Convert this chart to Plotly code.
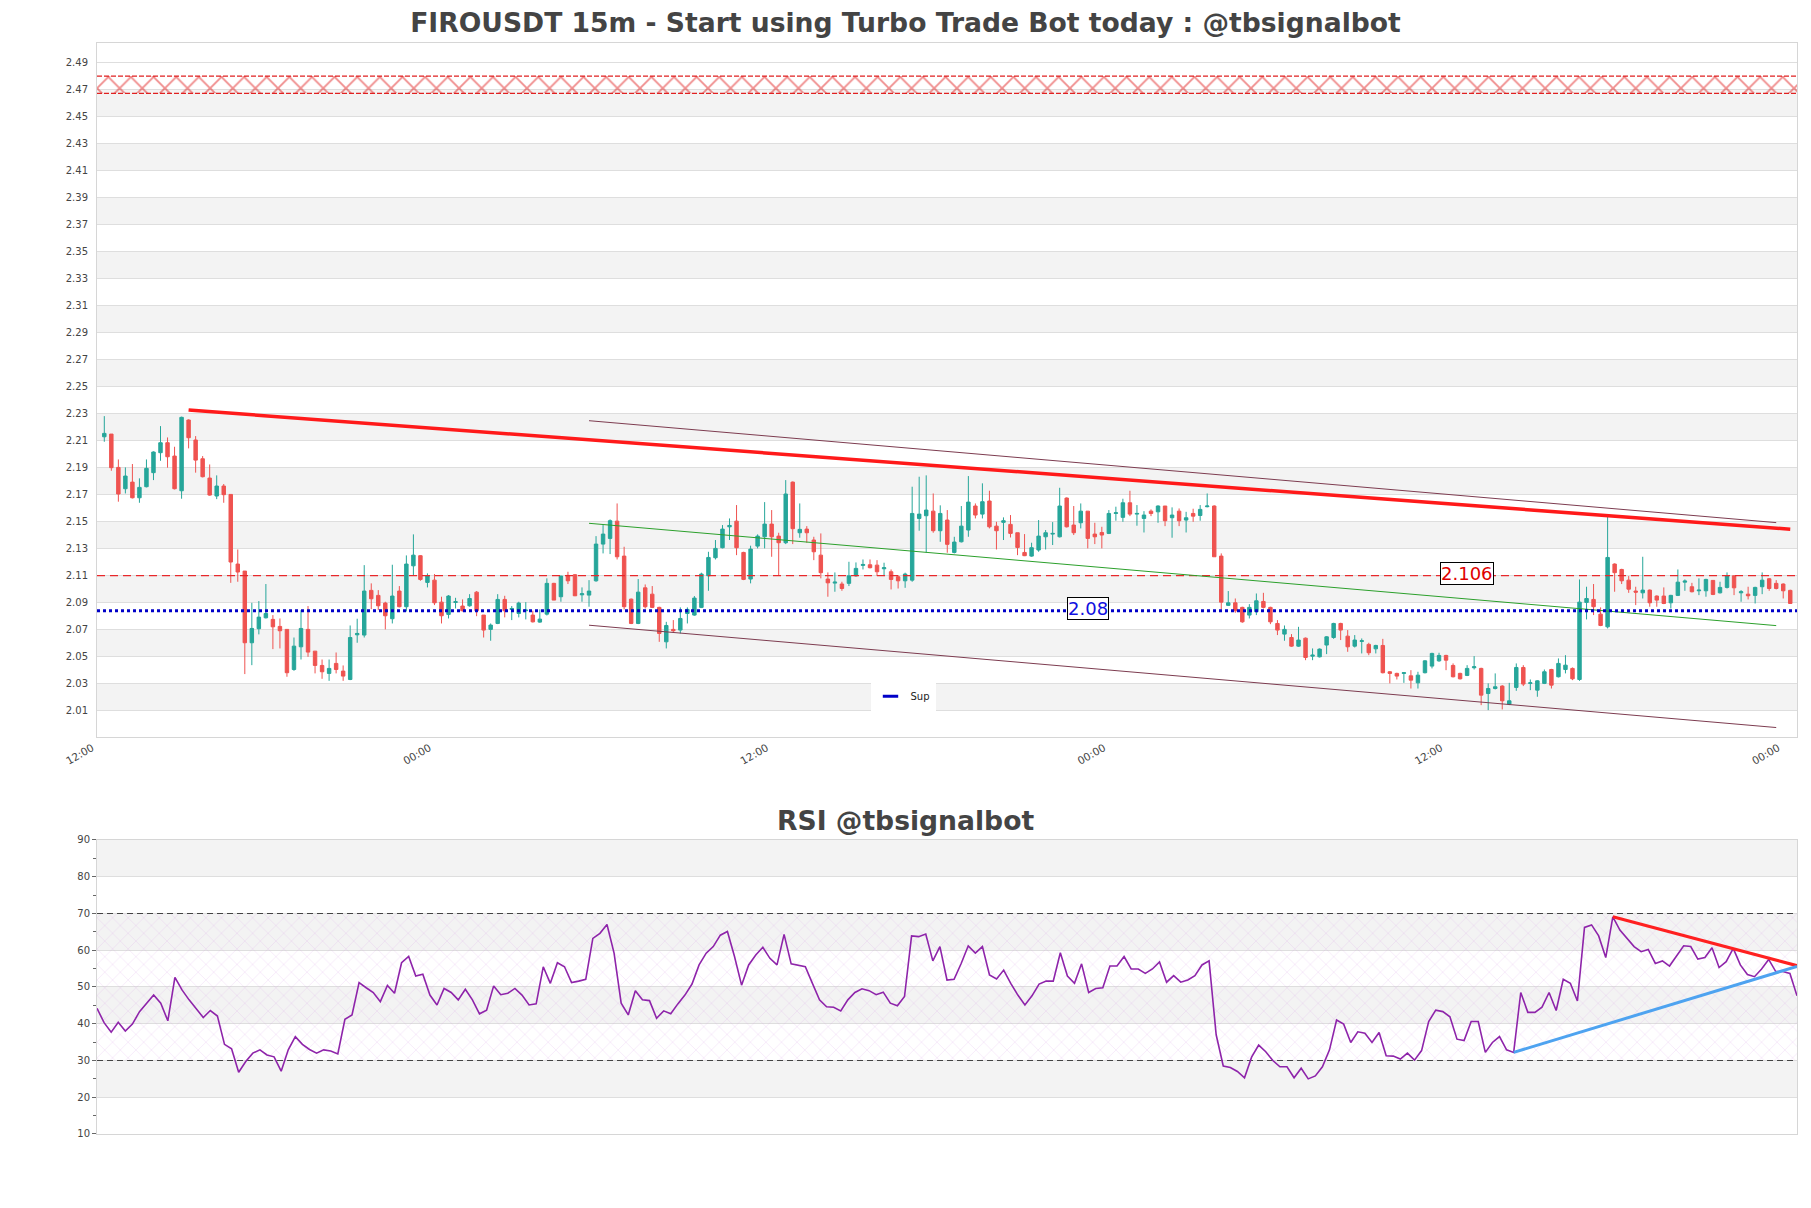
import plotly.graph_objects as go
import pandas as pd

# ---------------- data ----------------
first_time = "2024-03-11 12:15"
n_candles = 241

open_ = [2.2089,2.2109,2.1862,2.1704,2.1753,2.1637,2.1719,2.1823,2.1971,2.2045,2.1946,2.1689,2.2213,2.2065,2.1926,2.1783,2.1650,2.1724,2.1662,2.1146,
2.1094,2.0563,2.0667,2.0748,2.0736,2.0684,2.0662,2.0365,2.0533,2.0662,2.0501,2.0395,2.0336,2.0410,2.0353,2.0291,2.0622,2.0620,2.0951,2.0914,
2.0857,2.0741,2.0946,2.0830,2.1133,2.1208,2.1010,2.1027,2.0864,2.0773,2.0862,2.0835,2.0837,2.0938,2.0768,2.0662,2.0706,2.0884,2.0810,2.0780,
2.0800,2.0768,2.0716,2.0775,2.1003,2.0904,2.1062,2.1067,2.0918,2.0916,2.1022,2.1294,2.1336,2.1464,2.1205,2.0886,2.0706,2.0970,2.0923,2.0825,
2.0570,2.0662,2.0657,2.0780,2.0768,2.0825,2.1059,2.1193,2.1267,2.1422,2.1464,2.1232,2.1035,2.1279,2.1348,2.1442,2.1353,2.1304,2.1753,2.1378,
2.1405,2.1324,2.1212,2.1035,2.1005,2.0998,2.1003,2.1059,2.1136,2.1141,2.1138,2.1111,2.1089,2.1052,2.1022,2.1027,2.1484,2.1504,2.1538,2.1393,
2.1472,2.1232,2.1311,2.1398,2.1576,2.1516,2.1613,2.1427,2.1455,2.1440,2.1378,2.1232,2.1205,2.1250,2.1348,2.1368,2.1348,2.1635,2.1435,2.1452,
2.1538,2.1368,2.1380,2.1373,2.1521,2.1492,2.1600,2.1516,2.1484,2.1538,2.1533,2.1576,2.1489,2.1538,2.1472,2.1521,2.1506,2.1571,2.1576,2.1205,
2.0840,2.0859,2.0825,2.0768,2.0793,2.0869,2.0825,2.0706,2.0627,2.0602,2.0538,2.0597,2.0464,2.0459,2.0546,2.0602,2.0706,2.0612,2.0538,2.0573,
2.0551,2.0518,2.0543,2.0348,2.0336,2.0336,2.0318,2.0266,2.0341,2.0390,2.0429,2.0469,2.0395,2.0336,2.0321,2.0378,2.0373,2.0187,2.0224,2.0242,
2.0108,2.0232,2.0380,2.0262,2.0212,2.0262,2.0365,2.0311,2.0365,2.0373,2.0291,2.0862,2.0884,2.0775,2.0681,2.1146,2.1106,2.1027,2.0946,2.0933,
2.0953,2.0909,2.0909,2.0859,2.0914,2.1012,2.0978,2.0948,2.0948,2.1025,2.0933,2.0973,2.1059,2.0933,2.0923,2.0914,2.0978,2.1037,2.1003,2.0998,
2.0951]

high_ = [2.2242,2.2109,2.1921,2.1862,2.1887,2.1781,2.1921,2.1981,2.2168,2.2084,2.2015,2.2238,2.2218,2.2094,2.1946,2.1884,2.1803,2.1739,2.1662,2.1254,
2.1094,2.0859,2.0872,2.0998,2.0768,2.0743,2.0662,2.0602,2.0805,2.0835,2.0501,2.0439,2.0439,2.0491,2.0395,2.0691,2.0741,2.1138,2.1003,2.0953,
2.0867,2.1141,2.0983,2.1210,2.1366,2.1212,2.1077,2.1072,2.0904,2.0916,2.0896,2.0884,2.0923,2.0946,2.0768,2.0706,2.0923,2.0911,2.0835,2.0867,
2.0864,2.0800,2.0810,2.1040,2.1007,2.1059,2.1089,2.1072,2.0973,2.1027,2.1353,2.1435,2.1477,2.1595,2.1274,2.0891,2.1035,2.0995,2.0983,2.0830,
2.0718,2.0731,2.0825,2.0825,2.0909,2.1082,2.1237,2.1324,2.1435,2.1484,2.1583,2.1237,2.1282,2.1366,2.1605,2.1546,2.1378,2.1768,2.1758,2.1595,
2.1427,2.1348,2.1373,2.1084,2.1084,2.1015,2.1163,2.1158,2.1180,2.1180,2.1175,2.1156,2.1106,2.1064,2.1082,2.1719,2.1793,2.1803,2.1669,2.1581,
2.1546,2.1348,2.1576,2.1798,2.1595,2.1744,2.1689,2.1459,2.1492,2.1509,2.1378,2.1368,2.1304,2.1472,2.1398,2.1457,2.1711,2.1640,2.1576,2.1595,
2.1538,2.1452,2.1422,2.1546,2.1571,2.1630,2.1689,2.1583,2.1538,2.1551,2.1581,2.1576,2.1566,2.1558,2.1533,2.1556,2.1583,2.1669,2.1581,2.1225,
2.0946,2.0891,2.0830,2.0849,2.0928,2.0933,2.0830,2.0731,2.0691,2.0627,2.0681,2.0602,2.0521,2.0521,2.0612,2.0711,2.0711,2.0657,2.0620,2.0595,
2.0563,2.0548,2.0592,2.0353,2.0341,2.0346,2.0360,2.0348,2.0434,2.0489,2.0489,2.0474,2.0410,2.0341,2.0397,2.0464,2.0378,2.0262,2.0336,2.0249,
2.0266,2.0410,2.0397,2.0291,2.0286,2.0365,2.0370,2.0447,2.0471,2.0380,2.1032,2.0978,2.0998,2.0825,2.1501,2.1151,2.1111,2.1057,2.0978,2.1200,
2.0958,2.0914,2.0973,2.0918,2.1106,2.1032,2.1007,2.1040,2.1037,2.1027,2.1015,2.1084,2.1064,2.0953,2.0978,2.0978,2.1084,2.1042,2.1027,2.1003,
2.0956]

low_ = [2.2052,2.1837,2.1608,2.1669,2.1632,2.1600,2.1714,2.1768,2.1911,2.1860,2.1699,2.1630,2.2003,2.1823,2.1788,2.1652,2.1627,2.1600,2.1007,2.1015,
2.0331,2.0397,2.0625,2.0743,2.0516,2.0521,2.0311,2.0355,2.0439,2.0459,2.0336,2.0296,2.0281,2.0336,2.0281,2.0286,2.0563,2.0602,2.0812,2.0805,
2.0662,2.0706,2.0825,2.0795,2.1059,2.1022,2.0973,2.0842,2.0706,2.0743,2.0817,2.0795,2.0830,2.0760,2.0602,2.0578,2.0701,2.0751,2.0731,2.0751,
2.0736,2.0713,2.0711,2.0765,2.0879,2.0867,2.0998,2.0909,2.0867,2.0830,2.1015,2.1225,2.1220,2.1180,2.0810,2.0701,2.0701,2.0817,2.0820,2.0570,
2.0521,2.0639,2.0632,2.0706,2.0763,2.0820,2.0948,2.1180,2.1262,2.1324,2.1212,2.1027,2.1003,2.1262,2.1262,2.1200,2.1064,2.1294,2.1294,2.1341,
2.1304,2.1175,2.1040,2.0904,2.0941,2.0948,2.0983,2.1052,2.1106,2.1114,2.1057,2.1057,2.0958,2.0965,2.0970,2.1015,2.1393,2.1230,2.1378,2.1311,
2.1230,2.1225,2.1306,2.1348,2.1484,2.1484,2.1410,2.1254,2.1324,2.1343,2.1212,2.1205,2.1200,2.1237,2.1254,2.1287,2.1343,2.1417,2.1361,2.1410,
2.1262,2.1294,2.1262,2.1368,2.1467,2.1459,2.1501,2.1430,2.1380,2.1501,2.1452,2.1427,2.1341,2.1427,2.1380,2.1459,2.1467,2.1566,2.1200,2.0810,
2.0835,2.0785,2.0711,2.0743,2.0768,2.0817,2.0701,2.0620,2.0578,2.0533,2.0533,2.0434,2.0434,2.0454,2.0479,2.0592,2.0583,2.0496,2.0528,2.0484,
2.0471,2.0484,2.0336,2.0262,2.0291,2.0266,2.0224,2.0224,2.0336,2.0373,2.0422,2.0360,2.0306,2.0291,2.0316,2.0365,2.0101,2.0064,2.0217,2.0069,
2.0101,2.0207,2.0242,2.0212,2.0163,2.0257,2.0224,2.0306,2.0336,2.0286,2.0281,2.0736,2.0768,2.0686,2.0669,2.0941,2.0998,2.0933,2.0842,2.0891,
2.0830,2.0830,2.0849,2.0817,2.0909,2.0948,2.0936,2.0916,2.0904,2.0916,2.0928,2.0965,2.0916,2.0867,2.0884,2.0854,2.0923,2.0948,2.0958,2.0891,
2.0854]

close_ = [2.2114,2.1860,2.1665,2.1798,2.1637,2.1714,2.1855,2.1976,2.2045,2.1941,2.1704,2.2233,2.2082,2.1916,2.1793,2.1657,2.1724,2.1660,2.1161,2.1087,
2.0563,2.0669,2.0753,2.0780,2.0681,2.0652,2.0341,2.0538,2.0669,2.0494,2.0395,2.0348,2.0373,2.0365,2.0316,2.0602,2.0632,2.0946,2.0889,2.0837,
2.0763,2.0909,2.0830,2.1146,2.1212,2.1032,2.1059,2.0859,2.0763,2.0909,2.0867,2.0800,2.0891,2.0800,2.0657,2.0694,2.0884,2.0800,2.0817,2.0857,
2.0805,2.0718,2.0738,2.1003,2.0879,2.1057,2.1022,2.0911,2.0926,2.0946,2.1294,2.1368,2.1467,2.1200,2.0830,2.0706,2.0938,2.0830,2.0825,2.0632,
2.0691,2.0652,2.0743,2.0810,2.0894,2.1072,2.1195,2.1262,2.1405,2.1432,2.1267,2.1032,2.1257,2.1353,2.1442,2.1348,2.1304,2.1665,2.1408,2.1403,
2.1378,2.1237,2.1082,2.1007,2.1012,2.0965,2.1059,2.1114,2.1143,2.1119,2.1089,2.1119,2.1032,2.1022,2.1072,2.1521,2.1516,2.1546,2.1393,2.1521,
2.1292,2.1309,2.1427,2.1605,2.1509,2.1608,2.1422,2.1393,2.1467,2.1373,2.1269,2.1208,2.1267,2.1353,2.1378,2.1373,2.1576,2.1422,2.1378,2.1538,
2.1336,2.1348,2.1361,2.1521,2.1526,2.1600,2.1516,2.1521,2.1509,2.1521,2.1576,2.1467,2.1509,2.1467,2.1489,2.1501,2.1551,2.1576,2.1200,2.0864,
2.0859,2.0800,2.0718,2.0825,2.0874,2.0825,2.0718,2.0657,2.0662,2.0538,2.0583,2.0454,2.0471,2.0516,2.0607,2.0706,2.0657,2.0533,2.0583,2.0578,
2.0489,2.0543,2.0341,2.0336,2.0316,2.0341,2.0286,2.0323,2.0429,2.0484,2.0469,2.0434,2.0311,2.0296,2.0373,2.0385,2.0175,2.0224,2.0237,2.0133,
2.0133,2.0380,2.0257,2.0266,2.0281,2.0348,2.0249,2.0410,2.0397,2.0296,2.0864,2.0891,2.0830,2.0691,2.1195,2.1082,2.1022,2.0960,2.0938,2.0953,
2.0859,2.0879,2.0854,2.0914,2.1012,2.1020,2.0941,2.0953,2.1032,2.0921,2.0973,2.1059,2.0970,2.0941,2.0911,2.0973,2.1027,2.0965,2.0965,2.0948,
2.0854]

rsi = [44.2,40.3,37.7,40.4,38.0,39.9,43.3,45.7,47.8,45.6,40.8,52.6,49.2,46.5,44.0,41.7,43.6,42.1,34.4,33.2,
26.8,29.7,32.0,32.9,31.5,31.0,27.1,32.9,36.5,34.4,33.0,32.0,32.9,32.6,31.8,41.2,42.4,51.2,49.8,48.5,
46.0,50.4,48.3,56.6,58.3,53.0,53.5,47.8,45.1,49.6,48.5,46.5,49.4,46.5,42.7,43.7,50.3,47.9,48.3,49.6,
47.8,45.1,45.4,55.5,51.0,56.6,55.5,51.2,51.6,52.1,63.2,64.6,67.0,59.2,45.6,42.4,49.0,46.5,46.3,41.5,
43.5,42.7,45.4,47.8,50.8,56.0,59.2,61.0,64.1,65.1,58.3,50.5,56.0,58.7,60.8,57.8,56.0,64.3,56.3,56.0,
55.5,51.0,46.5,44.6,44.5,43.5,46.5,48.5,49.5,49.0,47.9,48.6,45.6,44.9,47.4,63.9,63.7,64.4,57.1,61.0,
51.9,52.1,56.4,61.2,59.2,61.0,53.3,52.2,54.6,51.0,47.8,45.1,47.6,50.8,51.6,51.6,59.3,53.0,51.0,56.3,
48.5,49.6,49.8,55.7,55.7,58.3,54.9,54.9,53.7,54.9,56.8,51.3,53.1,51.3,51.9,53.1,56.0,57.1,37.0,28.5,
28.1,27.0,25.3,30.9,34.2,32.4,30.0,28.3,28.3,25.3,27.9,25.0,25.8,28.3,32.9,41.0,39.9,34.9,37.8,37.4,
34.9,37.6,31.3,31.2,30.4,32.0,30.1,32.7,40.6,43.7,43.3,41.9,35.8,35.4,40.6,40.6,32.2,34.9,36.5,32.9,
32.2,48.5,43.1,43.1,44.5,48.5,43.6,52.1,51.0,46.2,66.2,66.9,63.9,58.0,69.1,65.5,63.2,61.0,59.6,60.2,
56.4,57.1,55.7,58.3,61.2,61.0,57.6,58.0,60.7,55.3,56.9,60.5,56.0,53.4,52.8,54.9,57.5,54.2,54.2,53.7,
47.6]

# overlay levels / trend lines (candle index, value)
resistance_level = 2.106
support_level = 2.08
supply_zone = [2.4633, 2.4761]
main_trend_idx = [12, 240]
main_trend_val = [2.2287, 2.1404]
channel_idx = [69, 238]
channel_upper = [2.2208, 2.1453]
channel_mid = [2.1448, 2.0690]
channel_lower = [2.0693, 1.9935]
rsi_res_idx = [214, 240]
rsi_res_val = [69.1, 55.8]
rsi_sup_idx = [200, 240]
rsi_sup_val = [32.2, 55.6]
rsi_levels = [30, 70]
res_label_idx = 194
sup_label_idx = 140

price_ticks = [round(1.986 + 0.02 * k, 3) for k in range(26)]
rsi_ticks = [10, 20, 30, 40, 50, 60, 70, 80, 90]

# ---------------- figure ----------------
FONT = "DejaVu Sans"
times = pd.date_range(first_time, periods=n_candles, freq="15min")
step = pd.Timedelta(minutes=15)
x_left = times[0] - step * 1.04
x_right = times[-1] + step * 0.96
xticks = pd.date_range(times[0] - step, periods=6, freq="12h")
t0, t1 = times[0], times[-1]

UP, DOWN = "#26a69a", "#ef5350"
SUP_BLUE = "#0000c8"
fig = go.Figure()

def at(idx_list):
    return [times[i] for i in idx_list]

def hline(x0, x1, y, color, width, dash, xa="x", ya="y"):
    fig.add_trace(go.Scatter(x=[x0, x1], y=[y, y], mode="lines",
                             line=dict(color=color, width=width, dash=dash),
                             showlegend=False, hoverinfo="skip", xaxis=xa, yaxis=ya))

# supply zone (hatched)
fig.add_trace(go.Scatter(
    x=[x_left, x_right, x_right, x_left, x_left],
    y=[supply_zone[0], supply_zone[0], supply_zone[1], supply_zone[1], supply_zone[0]],
    mode="lines", fill="toself", fillcolor="rgba(255,255,255,0)",
    fillpattern=dict(shape="x", fgcolor="#e01818", bgcolor="rgba(255,255,255,0)", size=16, solidity=0.22),
    line=dict(width=0), showlegend=False, hoverinfo="skip", xaxis="x", yaxis="y"))
for lv in supply_zone:
    hline(x_left, x_right, lv, "#e02020", 1.3, "5px,2px")

# resistance dashed line
hline(x_left, x_right, resistance_level, "#e8282b", 1.3, "8px,5px")

fig.add_trace(go.Candlestick(
    x=times, open=open_, high=high_, low=low_, close=close_,
    increasing=dict(line=dict(color=UP, width=1), fillcolor=UP),
    decreasing=dict(line=dict(color=DOWN, width=1), fillcolor=DOWN),
    whiskerwidth=0, showlegend=False, xaxis="x", yaxis="y", hoverinfo="skip"))

# channel lines
for vals, col in [(channel_upper, "#7d3c50"), (channel_lower, "#7d3c50"), (channel_mid, "#2ca02c")]:
    fig.add_trace(go.Scatter(x=at(channel_idx), y=vals, mode="lines",
                             line=dict(color=col, width=1), showlegend=False,
                             hoverinfo="skip", xaxis="x", yaxis="y"))

# main trend
fig.add_trace(go.Scatter(x=at(main_trend_idx), y=main_trend_val, mode="lines",
                         line=dict(color="#ff1a1a", width=3.5), showlegend=False,
                         hoverinfo="skip", xaxis="x", yaxis="y"))

# support line
hline(x_left, x_right, support_level, SUP_BLUE, 3, "dot")
# legend entry "Sup"
fig.add_trace(go.Scatter(x=[None], y=[None], mode="markers", name="Sup",
                         marker=dict(symbol="line-ew-open", size=11, color=SUP_BLUE, opacity=1,
                                     line=dict(color=SUP_BLUE, width=3)),
                         xaxis="x", yaxis="y"))

# RSI hatch zone
fig.add_trace(go.Scatter(
    x=[t0, t1, t1, t0, t0], y=[rsi_levels[0], rsi_levels[0], rsi_levels[1], rsi_levels[1], rsi_levels[0]],
    mode="lines", fill="toself", fillcolor="rgba(255,255,255,0)",
    fillpattern=dict(shape="x", fgcolor="rgba(205,140,225,0.75)", bgcolor="rgba(255,255,255,0)", size=11, solidity=0.08),
    line=dict(width=0), showlegend=False, hoverinfo="skip", xaxis="x2", yaxis="y2"))
for lv in rsi_levels:
    hline(t0, t1, lv, "#444444", 1.2, "6px,4px", "x2", "y2")

fig.add_trace(go.Scatter(x=times, y=rsi, mode="lines", line=dict(color="#8e24aa", width=1.6),
                         showlegend=False, hoverinfo="skip", xaxis="x2", yaxis="y2"))
fig.add_trace(go.Scatter(x=at(rsi_res_idx), y=rsi_res_val, mode="lines", line=dict(color="#ff2020", width=3),
                         showlegend=False, hoverinfo="skip", xaxis="x2", yaxis="y2"))
fig.add_trace(go.Scatter(x=at(rsi_sup_idx), y=rsi_sup_val, mode="lines", line=dict(color="#4ea3f0", width=3),
                         showlegend=False, hoverinfo="skip", xaxis="x2", yaxis="y2"))

shapes = []
BAND = "#f3f3f3"
for k in range(12):
    lo = 2.006 + 0.04 * k
    shapes.append(dict(type="rect", xref="x domain", yref="y", x0=0, x1=1, y0=lo, y1=lo + 0.02,
                       fillcolor=BAND, line=dict(width=0), layer="below"))
for lo in [20, 40, 60, 80]:
    shapes.append(dict(type="rect", xref="x2 domain", yref="y2", x0=0, x1=1, y0=lo, y1=lo + 10,
                       fillcolor=BAND, line=dict(width=0), layer="below"))

annotations = [
    dict(x=times[res_label_idx], y=resistance_level, xref="x", yref="y", text="2.106", showarrow=False,
         font=dict(family=FONT, size=18, color="#e00000"), bgcolor="white",
         bordercolor="black", borderwidth=1, borderpad=0, yshift=2),
    dict(x=times[sup_label_idx], y=support_level, xref="x", yref="y", text="2.08", showarrow=False,
         font=dict(family=FONT, size=18, color="#1010e0"), bgcolor="white",
         bordercolor="black", borderwidth=1, borderpad=0, yshift=2),
    dict(x=0.4756, y=0.2878, xref="paper", yref="paper", text="<b>RSI @tbsignalbot</b>", showarrow=False,
         font=dict(family=FONT, size=26.6, color="#444444"), xanchor="center", yanchor="middle"),
]

axis_common = dict(showline=True, mirror=True, linecolor="#d6d6d6", linewidth=1, zeroline=False)
fig.update_layout(
    width=1811, height=1208,
    margin=dict(l=97, r=14, t=43, b=74),
    paper_bgcolor="white", plot_bgcolor="white",
    font=dict(family=FONT, color="#444444"),
    title=dict(text="<b>FIROUSDT 15m - Start using Turbo Trade Bot today : @tbsignalbot</b>",
               x=0.5, xref="container", y=1 - 23 / 1208, yanchor="middle",
               font=dict(family=FONT, size=26.6, color="#444444")),
    xaxis=dict(domain=[0, 1], anchor="y", type="date", range=[x_left, x_right],
               tickvals=list(xticks), tickformat="%H:%M", tickangle=-30, ticklabelshift=-5,
               showgrid=False, rangeslider=dict(visible=False),
               tickfont=dict(size=10.5, color="#444444"), **axis_common),
    yaxis=dict(domain=[0.3639, 1], anchor="x", range=[1.9865, 2.5006], tickvals=price_ticks,
               tickformat=".2f", showgrid=True, gridcolor="#dedede", gridwidth=1,
               tickfont=dict(size=10, color="#444444"), ticklabelstandoff=6, **axis_common),
    xaxis2=dict(domain=[0, 1], anchor="y2", type="date", range=[t0, t1], showticklabels=False,
                showgrid=False, **axis_common),
    yaxis2=dict(domain=[0, 0.2695], anchor="x2", range=[10, 90], tickvals=rsi_ticks,
                showgrid=True, gridcolor="#dedede", ticks="outside", ticklen=4, tickcolor="#666666",
                minor=dict(ticks="outside", ticklen=3, dtick=5, tick0=5, tickcolor="#666666", showgrid=False),
                tickfont=dict(size=10, color="#444444"), **axis_common),
    shapes=shapes, annotations=annotations,
    showlegend=True,
    legend=dict(x=0.455, y=0.4145, xanchor="left", yanchor="top", bgcolor="white",
                font=dict(family=FONT, size=10, color="#222222"), itemwidth=30),
)

fig.write_html("out.html")
